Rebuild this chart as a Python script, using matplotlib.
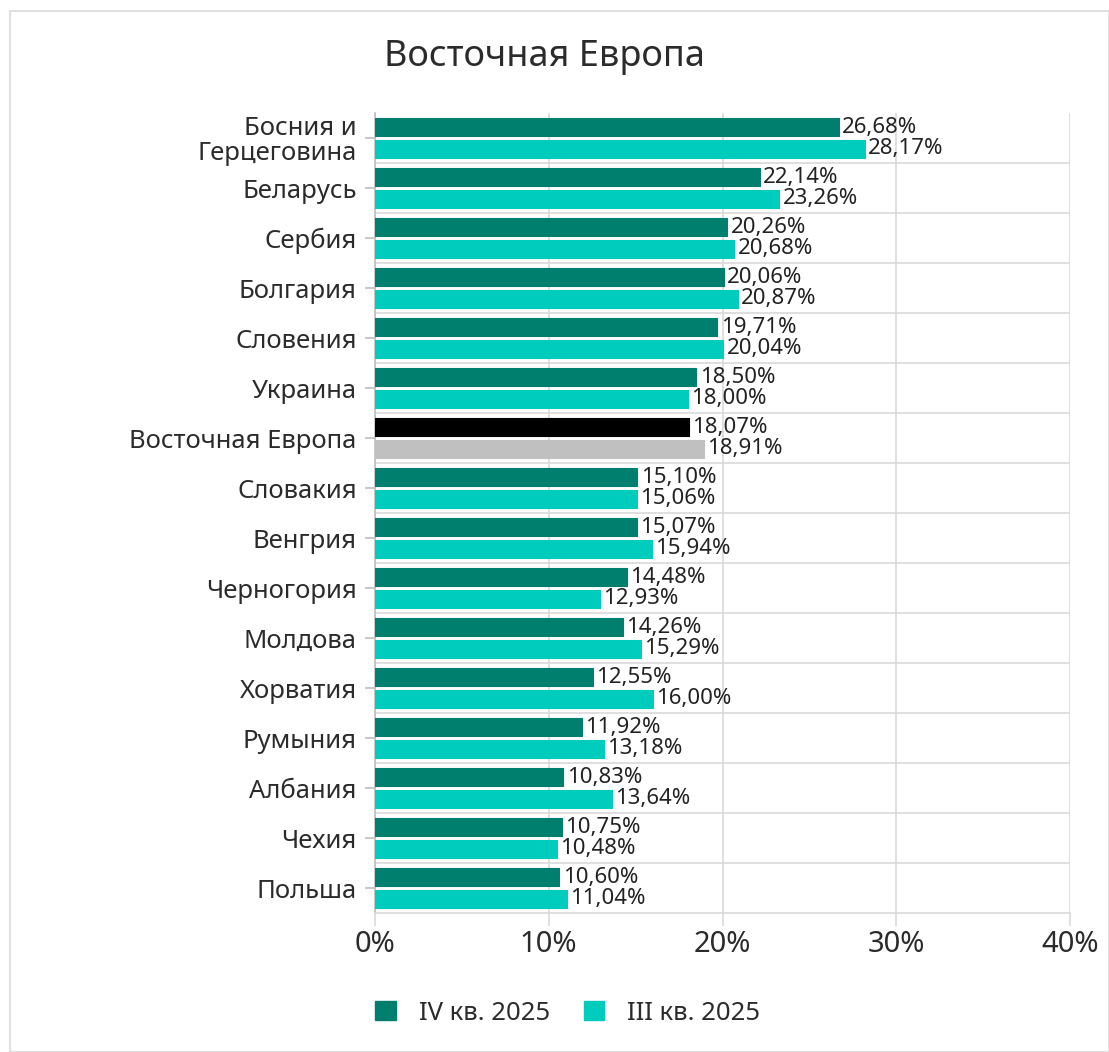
import matplotlib
matplotlib.use("Agg")
import matplotlib.pyplot as plt
import numpy as np
from matplotlib.patches import Rectangle
from matplotlib.ticker import FixedLocator, PercentFormatter

plt.rcParams['font.family'] = ['Noto Sans', 'DejaVu Sans']

countries = ["Босния и\nГерцеговина", "Беларусь", "Сербия", "Болгария", "Словения",
             "Украина", "Восточная Европа", "Словакия", "Венгрия", "Черногория",
             "Молдова", "Хорватия", "Румыния", "Албания", "Чехия", "Польша"]
q4_2025 = [26.68, 22.14, 20.26, 20.06, 19.71, 18.50, 18.07, 15.10, 15.07, 14.48,
           14.26, 12.55, 11.92, 10.83, 10.75, 10.60]
q3_2025 = [28.17, 23.26, 20.68, 20.87, 20.04, 18.00, 18.91, 15.06, 15.94, 12.93,
           15.29, 16.00, 13.18, 13.64, 10.48, 11.04]
series_names = ["IV кв. 2025", "III кв. 2025"]
x_ticks = [0, 10, 20, 30, 40]

dark = "#007f6e"
light = "#00ccbe"
text_col = "#2b2b2b"
grid_col = "#d9d9d9"

fig = plt.figure(figsize=(11.09, 10.52), dpi=100)
ax = fig.add_axes([0.338, 0.132, 0.627, 0.7605])

y = np.arange(len(countries))
h = 0.36
off = 0.215
c4 = [("#000000" if c == "Восточная Европа" else dark) for c in countries]
c3 = [("#c0c0c0" if c == "Восточная Европа" else light) for c in countries]

ax.barh(y - off, q4_2025, height=h, color=c4, edgecolor=c4, linewidth=0.8,
        joinstyle="round", zorder=3)
ax.barh(y + off, q3_2025, height=h, color=c3, edgecolor=c3, linewidth=0.8,
        joinstyle="round", zorder=3)

for yi, v in zip(y, q4_2025):
    ax.text(v + 0.2, yi - off, f"{v:.2f}%".replace(".", ","), va="center", ha="left",
            fontsize=16, color="#222222")
for yi, v in zip(y, q3_2025):
    ax.text(v + 0.2, yi + off, f"{v:.2f}%".replace(".", ","), va="center", ha="left",
            fontsize=16, color="#222222")

ax.set_xlim(0, 40)
ax.set_ylim(len(countries) - 0.5, -0.5)
ax.xaxis.set_major_locator(FixedLocator(x_ticks))
ax.xaxis.set_major_formatter(PercentFormatter(decimals=0))
ax.set_yticks(y)
ax.set_yticklabels(countries, fontsize=18.5, color=text_col, linespacing=1.0)
ax.yaxis.set_minor_locator(FixedLocator(np.arange(0.5, len(countries) - 1, 1)))

ax.grid(axis="x", which="major", color=grid_col, linewidth=1.2, zorder=0)
ax.grid(axis="y", which="minor", color=grid_col, linewidth=1.2, zorder=0)
ax.tick_params(axis="x", length=9, width=1.2, color=grid_col, labelsize=21,
               labelcolor=text_col, pad=3)
ax.tick_params(axis="y", which="major", length=7, width=1.2, color="#bfbfbf", pad=6)
ax.tick_params(axis="y", which="minor", length=0)

for s in ["top", "right"]:
    ax.spines[s].set_visible(False)
ax.spines["left"].set_color("#bfbfbf")
ax.spines["left"].set_linewidth(1.2)
ax.spines["bottom"].set_color(grid_col)
ax.spines["bottom"].set_linewidth(1.2)

fig.text(0.491, 0.946, "Восточная Европа", ha="center", va="center",
         fontsize=26, color=text_col)

handles = [Rectangle((0, 0), 1, 1, color=dark), Rectangle((0, 0), 1, 1, color=light)]
fig.legend(handles, series_names, loc="center", bbox_to_anchor=(0.512, 0.037), ncol=2,
           frameon=False, fontsize=18.5, handlelength=0.8, handleheight=0.8,
           columnspacing=1.3, handletextpad=0.9, labelcolor=text_col)

fig.patches.append(Rectangle((10 / 1109, 0), 1 - 10 / 1109, 1 - 11 / 1052,
                             transform=fig.transFigure, fill=False,
                             edgecolor="#e0e0e0", linewidth=1.5))

fig.savefig("out.png", dpi=100, facecolor="white")
